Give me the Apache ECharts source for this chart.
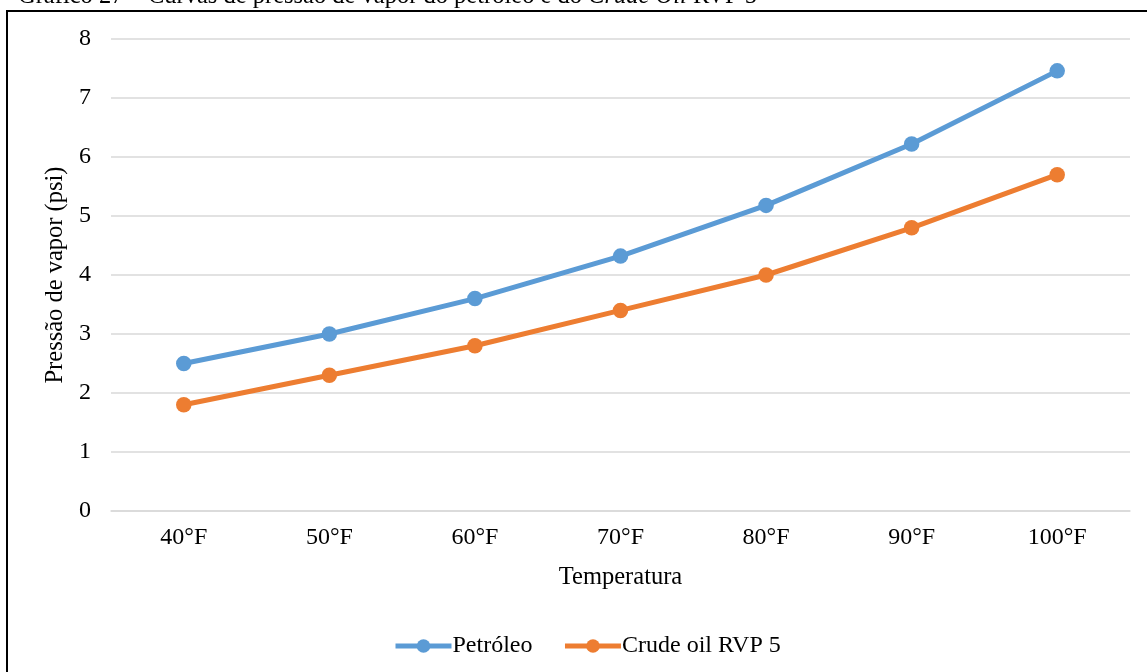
<!DOCTYPE html>
<html>
<head>
<meta charset="utf-8">
<script src="https://cdn.jsdelivr.net/npm/echarts@6/dist/echarts.min.js"></script>
<style>
html,body{margin:0;padding:0;background:#fff;}
#chart{width:1147px;height:672px;}
</style>
</head>
<body>
<div id="chart"></div>
<script>
const categories = ['40°F','50°F','60°F','70°F','80°F','90°F','100°F'];
const petroleo = [2.5, 3.0, 3.6, 4.32, 5.18, 6.22, 7.46];
const crudeOil = [1.8, 2.3, 2.8, 3.4, 4.0, 4.8, 5.7];
const seriesNames = ['Petróleo', 'Crude oil RVP 5'];
const yTicks = {min: 0, max: 8, interval: 1};

const FONT = '"Liberation Serif", "Times New Roman", serif';
const chart = echarts.init(document.getElementById('chart'));
chart.setOption({
  animation: false,
  backgroundColor: '#fff',
  graphic: [
    {type: 'rect', shape: {x: 7, y: 11, width: 1300, height: 800},
     style: {fill: 'none', stroke: '#000', lineWidth: 2}, z: 10},
    {type: 'text', left: 18, top: -16,
     style: {
       text: '{n|Gráfico 27 – Curvas de pressão de vapor do petróleo e do }{i|Crude Oil}{n| RVP 5}',
       rich: {
         n: {fontFamily: FONT, fontSize: 24.5, fill: '#000'},
         i: {fontFamily: FONT, fontSize: 24.5, fontStyle: 'italic', fill: '#000'}
       }
     }, z: 9}
  ],
  grid: {left: 111, right: 17, top: 39, bottom: 161, containLabel: false},
  xAxis: {
    type: 'category',
    data: categories,
    boundaryGap: true,
    name: 'Temperatura',
    nameLocation: 'middle',
    nameGap: 54,
    nameTextStyle: {fontFamily: FONT, fontSize: 24.5, color: '#000'},
    axisLine: {show: true, lineStyle: {color: '#d9d9d9', width: 1.5}},
    axisTick: {show: false},
    axisLabel: {fontFamily: FONT, fontSize: 24, color: '#000', margin: 15}
  },
  yAxis: {
    type: 'value',
    min: yTicks.min, max: yTicks.max, interval: yTicks.interval,
    name: 'Pressão de vapor (psi)',
    nameLocation: 'middle',
    nameGap: 40,
    nameTextStyle: {fontFamily: FONT, fontSize: 24.5, color: '#000'},
    axisLine: {show: false},
    axisTick: {show: false},
    axisLabel: {fontFamily: FONT, fontSize: 24, color: '#000', margin: 20},
    splitLine: {lineStyle: {color: '#d9d9d9', width: 1.5}}
  },
  legend: {
    left: 388, top: 629,
    itemWidth: 56, itemHeight: 17, itemGap: 30,
    lineStyle: {width: 5},
    textStyle: {fontFamily: FONT, fontSize: 24, color: '#000', padding: [0,0,0,-4]},
    data: seriesNames
  },
  series: [
    {name: seriesNames[0], type: 'line', data: petroleo,
     symbol: 'circle', symbolSize: 15.5,
     lineStyle: {color: '#5B9BD5', width: 5},
     itemStyle: {color: '#5B9BD5'}},
    {name: seriesNames[1], type: 'line', data: crudeOil,
     symbol: 'circle', symbolSize: 15.5,
     lineStyle: {color: '#ED7D31', width: 5},
     itemStyle: {color: '#ED7D31'}}
  ]
});
</script>
</body>
</html>
